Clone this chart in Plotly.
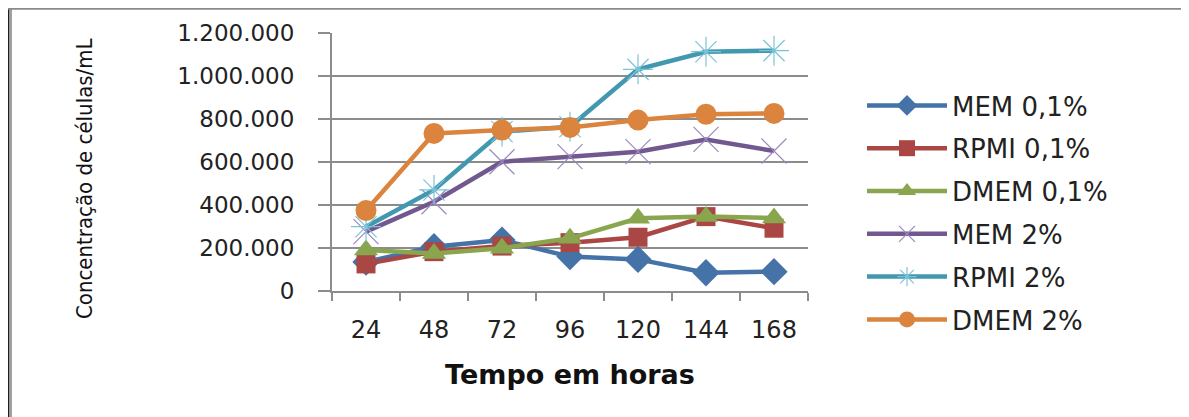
import plotly.graph_objects as go

hours = ["24", "48", "72", "96", "120", "144", "168"]
mem_01 = [135000, 206000, 237000, 160000, 147000, 85000, 90000]
rpmi_01 = [126000, 183000, 209000, 225000, 250000, 346000, 292000]
dmem_01 = [191000, 175000, 199000, 245000, 338000, 346000, 340000]
mem_2 = [276000, 415000, 601000, 625000, 648000, 705000, 651000]
rpmi_2 = [299000, 470000, 741000, 764000, 1031000, 1113000, 1118000]
dmem_2 = [374000, 733000, 749000, 761000, 795000, 822000, 826000]

y_title = "Concentração de células/mL"
x_title = "Tempo em horas"

series = [
    ("MEM 0,1%", mem_01, "#4572A7", "diamond", 21, "#4572A7", 0),
    ("RPMI 0,1%", rpmi_01, "#AA4643", "square", 19, "#AA4643", 0),
    ("DMEM 0,1%", dmem_01, "#89A54E", "triangle-up", 21, "#89A54E", 0),
    ("MEM 2%", mem_2, "#71588F", "x-thin-open", 25, "#9C89C0", 1.2),
    ("RPMI 2%", rpmi_2, "#4198AF", "asterisk-open", 25, "#7CC3D8", 1.2),
    ("DMEM 2%", dmem_2, "#DB843D", "circle", 21, "#DB843D", 0),
]

fig = go.Figure()
for i, (name, vals, col, sym, size, mcol, mlw) in enumerate(series):
    marker = dict(symbol=sym, size=size, color=mcol)
    if mlw:
        marker["line"] = dict(color=mcol, width=mlw)
    else:
        marker["line"] = dict(width=0)
    fig.add_trace(go.Scatter(
        x=hours, y=vals, name=name, mode="lines+markers",
        line=dict(color=col, width=4.5), marker=marker,
        legendgroup=f"g{i}",
    ))

# figure coordinates (page is offset by the 8px body margin)
W, H = 1181, 409
L, R, T, B = 324, 800, 25, 283
pw, ph = R - L, B - T

def px(x):
    return (x - L) / pw

def py(y):
    return (B - y) / ph

def rect(x0, y0, x1, y1, color):
    return dict(type="rect", xref="paper", yref="paper", layer="above",
                x0=px(x0), x1=px(x1), y0=py(y1), y1=py(y0),
                fillcolor=color, line=dict(width=0))

shapes = [
    rect(0, 0, 1.5, H, "#1e1e1e"),
    rect(1.5, 0, 4, H, "#a0a0a0"),
    rect(0, 0, W, 1.8, "#8a8a8a"),
    rect(W - 1.5, 0, W, H, "#dcdcdc"),
]

fig.update_layout(
    width=W, height=H,
    margin=dict(l=L, r=W - R, t=T, b=H - B),
    paper_bgcolor="white", plot_bgcolor="white",
    separators=",.",
    showlegend=True,
    legend=dict(
        x=px(854), y=py(74), xanchor="left", yanchor="top",
        font=dict(family="DejaVu Sans", size=26, color="#222222"),
        tracegroupgap=6, itemwidth=80, bgcolor="rgba(0,0,0,0)",
        maxheight=400,
    ),
    shapes=shapes,
    font=dict(family="DejaVu Sans", color="#222222"),
    annotations=[dict(
        text=y_title, textangle=-90, showarrow=False,
        xref="paper", yref="paper", x=px(76), y=py(170),
        xanchor="center", yanchor="middle",
        font=dict(family="DejaVu Sans Condensed", size=22, color="#111111"),
    )],
)

fig.update_xaxes(
    type="category", range=[-0.5, 6.5],
    tickson="boundaries", ticks="outside", ticklen=8, tickcolor="#8c8c8c", tickwidth=2,
    showline=True, linecolor="#8c8c8c", linewidth=2, showgrid=False,
    tickfont=dict(family="DejaVu Sans", size=24, color="#222222"),
    ticklabelstandoff=16,
    title=dict(text=f"<b>{x_title}</b>", font=dict(family="DejaVu Sans", size=27, color="#111111"), standoff=22),
)

fig.update_yaxes(
    range=[0, 1200000], dtick=200000, tickformat=",d",
    ticks="outside", ticklen=12, tickcolor="#8c8c8c", tickwidth=2,
    showline=True, linecolor="#8c8c8c", linewidth=2,
    showgrid=True, gridcolor="#8c8c8c", gridwidth=2,
    zeroline=False,
    tickfont=dict(family="DejaVu Sans", size=23, color="#222222"),
    ticklabelstandoff=19,
)

fig.write_html("out.html")
